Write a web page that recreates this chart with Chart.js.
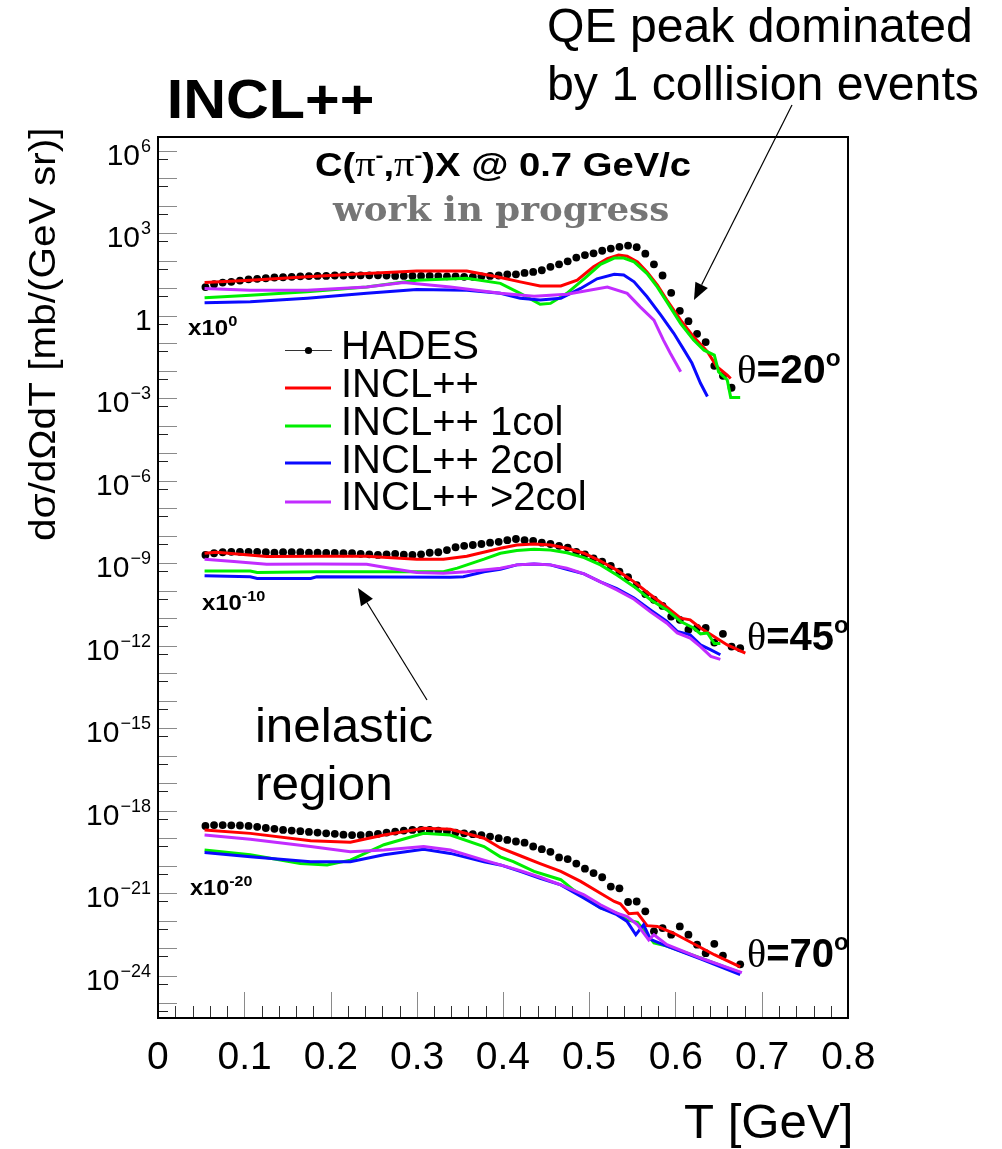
<!DOCTYPE html>
<html>
<head>
<meta charset="utf-8">
<title>C(pi-,pi-)X @ 0.7 GeV/c</title>
<script src="https://cdn.jsdelivr.net/npm/chart.js@4.4.0/dist/chart.umd.min.js"></script>
<style>
  html, body { margin: 0; padding: 0; background: #fff; }
  #wrap { width: 1002px; height: 1149px; }
</style>
</head>
<body>
<div id="wrap"><canvas id="chart" width="1002" height="1149"></canvas></div>
<script>
// HADES bin centres [GeV]
const hadesT = [0.055, 0.065, 0.075, 0.085, 0.095, 0.105, 0.115, 0.125, 0.135, 0.145,
  0.155, 0.165, 0.175, 0.185, 0.195, 0.205, 0.215, 0.225, 0.235, 0.245,
  0.255, 0.265, 0.275, 0.285, 0.295, 0.305, 0.315, 0.325, 0.335, 0.345,
  0.355, 0.365, 0.375, 0.385, 0.395, 0.405, 0.415, 0.425, 0.435, 0.445,
  0.455, 0.465, 0.475, 0.485, 0.495, 0.505, 0.515, 0.525, 0.535, 0.545,
  0.555, 0.565, 0.575, 0.585, 0.595, 0.605, 0.615, 0.625, 0.635, 0.645,
  0.655, 0.665, 0.675];

// theta = 20 deg (x10^0)
const hades20 = [1.1e1, 1.4e1, 1.6e1, 1.7e1, 1.9e1, 2.1e1, 2.2e1, 2.3e1, 2.45e1, 2.5e1,
  2.6e1, 2.7e1, 2.75e1, 2.8e1, 2.8e1, 2.9e1, 2.9e1, 2.95e1, 2.95e1, 2.95e1,
  2.95e1, 2.9e1, 2.8e1, 2.8e1, 2.8e1, 2.8e1, 2.8e1, 2.75e1, 2.7e1, 2.7e1,
  2.6e1, 2.6e1, 2.7e1, 2.8e1, 2.9e1, 3.2e1, 3.2e1, 3.6e1, 3.9e1, 4.5e1,
  6.0e1, 7.4e1, 9.5e1, 1.3e2, 1.6e2, 1.85e2, 2.3e2, 2.75e2, 3.2e2, 3.55e2,
  3.1e2, 1.8e2, 7.4e1, 2.9e1, 6.8, 1.5, 0.63, 0.22, 0.11, 1.5e-2,
  6.5e-3, 2.4e-3];
const red20T = [0.054, 0.107, 0.173, 0.242, 0.300, 0.358, 0.393, 0.420, 0.443, 0.467, 0.486, 0.505, 0.521,
  0.534, 0.544, 0.556, 0.567, 0.579, 0.590, 0.606, 0.621, 0.637, 0.648, 0.660, 0.664];
const red20 = [1.6e1, 1.95e1, 2.6e1, 3.4e1, 4.2e1, 4.2e1, 2.6e1, 1.7e1, 1.2e1, 1.2e1, 1.95e1, 6.0e1, 1.2e2,
  1.6e2, 1.45e2, 9.1e1, 3.9e1, 1.3e1, 3.7, 0.69, 0.17, 4.9e-2, 1.4e-2, 6.9e-3, 5.2e-3];
const green20T = [0.054, 0.107, 0.173, 0.242, 0.300, 0.358, 0.397, 0.420, 0.443, 0.455, 0.474, 0.494, 0.513, 0.529,
  0.540, 0.552, 0.567, 0.579, 0.590, 0.606, 0.621, 0.633, 0.645, 0.650, 0.660, 0.664, 0.675];
const green20 = [4.5, 5.6, 7.4, 1.1e1, 1.95e1, 2.3e1, 1.5e1, 6.5, 2.6, 2.8, 6.5, 2.2e1, 7.4e1, 1.25e2,
  1.25e2, 9.1e1, 3.4e1, 1.1e1, 3.2, 0.52, 0.13, 5.6e-2, 3.7e-2, 9.1e-3, 4.6e-3, 1.07e-3, 1.07e-3];
const blue20T = [0.054, 0.107, 0.173, 0.242, 0.300, 0.358, 0.397, 0.420, 0.443, 0.467, 0.490, 0.509, 0.529,
  0.540, 0.552, 0.567, 0.583, 0.598, 0.610, 0.619, 0.629, 0.637];
const blue20 = [2.95, 3.2, 4.3, 6.5, 8.9, 8.5, 6.5, 4.3, 3.7, 4.3, 9.8, 2.2e1, 3.2e1,
  3.0e1, 1.7e1, 4.9, 1.05, 0.23, 5.6e-2, 1.9e-2, 3.5e-3, 1.15e-3];
const mag20T = [0.054, 0.107, 0.173, 0.242, 0.285, 0.339, 0.397, 0.436, 0.474, 0.521, 0.544, 0.559, 0.575,
  0.586, 0.594, 0.606];
const mag20 = [9.8, 8.5, 8.5, 1.1e1, 1.6e1, 1.1e1, 6.5, 5.1, 6.0, 1.1e1, 6.5, 2.1, 0.69,
  0.13, 4.3e-2, 9.1e-3];

// theta = 45 deg (x10^-10)
const hades45 = [2.0e-9, 2.3e-9, 2.5e-9, 2.6e-9, 2.6e-9, 2.6e-9, 2.6e-9, 2.5e-9, 2.4e-9, 2.5e-9,
  2.5e-9, 2.5e-9, 2.4e-9, 2.4e-9, 2.35e-9, 2.35e-9, 2.3e-9, 2.3e-9, 2.2e-9, 2.1e-9,
  2.0e-9, 2.1e-9, 2.2e-9, 2.05e-9, 2.0e-9, 2.1e-9, 2.4e-9, 2.5e-9, 3.0e-9, 3.8e-9,
  4.3e-9, 4.6e-9, 5.0e-9, 5.6e-9, 6.0e-9, 6.9e-9, 7.6e-9, 6.9e-9, 6.5e-9, 5.6e-9,
  5.0e-9, 4.3e-9, 3.7e-9, 2.6e-9, 2.1e-9, 1.5e-9, 1.15e-9, 7.9e-10, 4.9e-10, 3.1e-10,
  1.6e-10, 7.6e-11, 4.7e-11, 2.8e-11, 1.15e-11, 8.7e-12, 3.8e-12, 4.4e-12, 4.4e-12, 1.3e-12,
  2.7e-12, 9.3e-13, 8.1e-13];
const red45T = [0.054, 0.068, 0.126, 0.184, 0.242, 0.300, 0.331, 0.358, 0.397, 0.416, 0.436, 0.455, 0.474,
  0.494, 0.513, 0.532, 0.552, 0.571, 0.590, 0.606, 0.617, 0.629, 0.645, 0.660, 0.681];
const red45 = [2.3e-9, 2.5e-9, 1.75e-9, 1.8e-9, 1.8e-9, 1.4e-9, 1.4e-9, 1.8e-9, 3.5e-9, 4.6e-9, 5.0e-9, 4.6e-9, 3.5e-9,
  2.3e-9, 1.2e-9, 5.6e-10, 2.1e-10, 7.1e-11, 2.5e-11, 1.0e-11, 8.7e-12, 4.4e-12, 2.1e-12, 1.07e-12, 5.4e-13];
const green45T = [0.054, 0.107, 0.115, 0.184, 0.331, 0.347, 0.378, 0.397, 0.416, 0.436, 0.455, 0.474,
  0.494, 0.513, 0.532, 0.552, 0.571, 0.590, 0.606, 0.621, 0.629, 0.637, 0.645, 0.652];
const green45 = [5.2e-10, 5.2e-10, 4.6e-10, 4.9e-10, 4.9e-10, 6.6e-10, 1.4e-9, 2.3e-9, 2.9e-9, 3.2e-9, 3.0e-9, 2.4e-9,
  1.6e-9, 8.7e-10, 3.7e-10, 1.4e-10, 4.7e-11, 2.0e-11, 7.6e-12, 4.4e-12, 2.7e-12, 2.9e-12, 1.2e-12, 1.2e-12];
const blue45T = [0.054, 0.107, 0.115, 0.177, 0.184, 0.339, 0.354, 0.378, 0.397, 0.416, 0.436, 0.455,
  0.474, 0.494, 0.513, 0.532, 0.552, 0.571, 0.590, 0.602, 0.617, 0.629, 0.641, 0.652];
const blue45 = [3.5e-10, 3.2e-10, 2.8e-10, 2.8e-10, 3.2e-10, 3.1e-10, 3.2e-10, 4.9e-10, 6.0e-10, 8.7e-10, 9.3e-10, 8.7e-10,
  6.0e-10, 4.1e-10, 2.1e-10, 1.2e-10, 5.4e-11, 2.0e-11, 7.6e-12, 3.3e-12, 2.5e-12, 1.07e-12, 7.1e-13, 4.7e-13];
const mag45T = [0.054, 0.088, 0.126, 0.184, 0.242, 0.269, 0.300, 0.331, 0.358, 0.397, 0.416, 0.436, 0.455,
  0.474, 0.494, 0.513, 0.532, 0.552, 0.571, 0.590, 0.602, 0.617, 0.629, 0.641, 0.652];
const mag45 = [1.4e-9, 1.15e-9, 9.1e-10, 9.3e-10, 9.1e-10, 6.6e-10, 4.6e-10, 4.3e-10, 4.9e-10, 6.6e-10, 8.7e-10, 9.3e-10, 8.7e-10,
  6.6e-10, 4.1e-10, 2.1e-10, 1.07e-10, 4.9e-11, 1.7e-11, 6.6e-12, 2.9e-12, 1.9e-12, 9.3e-13, 4.1e-13, 3.2e-13];

// theta = 70 deg (x10^-20)
const hades70 = [2.8e-19, 3.0e-19, 3.0e-19, 2.95e-19, 2.9e-19, 2.8e-19, 2.6e-19, 2.35e-19, 2.2e-19, 2.0e-19,
  1.9e-19, 1.8e-19, 1.7e-19, 1.6e-19, 1.5e-19, 1.45e-19, 1.35e-19, 1.3e-19, 1.3e-19, 1.35e-19,
  1.45e-19, 1.6e-19, 1.75e-19, 1.9e-19, 2.0e-19, 2.0e-19, 2.0e-19, 1.9e-19, 1.75e-19, 1.6e-19,
  1.5e-19, 1.4e-19, 1.3e-19, 1.15e-19, 1.0e-19, 8.7e-20, 7.6e-20, 6.9e-20, 5.0e-20, 4.0e-20,
  3.2e-20, 2.0e-20, 1.75e-20, 1.2e-20, 7.8e-21, 5.4e-21, 3.8e-21, 1.75e-21, 1.5e-21, 4.8e-22,
  5.0e-22, 2.2e-22, 4.1e-23, 5.4e-23, 3.1e-23, 6.2e-23, 3.1e-23, 1.35e-23, 6.6e-24, 1.45e-23,
  5.4e-24, null, 2.6e-24];
const red70T = [0.054, 0.107, 0.177, 0.223, 0.262, 0.308, 0.339, 0.378, 0.397, 0.420, 0.443, 0.467,
  0.490, 0.513, 0.529, 0.536, 0.546, 0.556, 0.567, 0.579, 0.598, 0.621, 0.645, 0.675];
const red70 = [2.0e-19, 1.5e-19, 8.1e-20, 7.1e-20, 1.3e-19, 2.3e-19, 2.1e-19, 1.0e-19, 4.4e-20, 2.3e-20, 1.2e-20, 6.2e-21,
  2.7e-21, 1.0e-21, 5.0e-22, 4.1e-22, 1.8e-22, 1.9e-22, 6.6e-23, 6.2e-23, 3.5e-23, 1.45e-23, 5.8e-24, 2.1e-24];
const green70T = [0.054, 0.107, 0.165, 0.196, 0.223, 0.262, 0.308, 0.339, 0.378, 0.397, 0.412,
  0.436, 0.467, 0.482, 0.513, 0.532, 0.544, 0.556, 0.575, 0.590, 0.629, 0.675];
const green70 = [3.7e-20, 2.5e-20, 1.2e-20, 1.07e-20, 1.6e-20, 5.8e-20, 1.5e-19, 1.3e-19, 5.0e-20, 2.1e-20, 1.4e-20,
  6.2e-21, 3.1e-21, 1.3e-21, 2.9e-22, 1.9e-22, 1.07e-22, 8.7e-23, 1.55e-23, 1.2e-23, 4.4e-24, 1.3e-24];
const blue70T = [0.054, 0.107, 0.177, 0.223, 0.262, 0.308, 0.339, 0.378, 0.397, 0.420, 0.443,
  0.467, 0.494, 0.513, 0.532, 0.544, 0.554, 0.563, 0.571, 0.590, 0.629, 0.675];
const blue70 = [3.0e-20, 2.1e-20, 1.4e-20, 1.4e-20, 2.5e-20, 4.0e-20, 2.8e-20, 1.4e-20, 1.07e-20, 6.2e-21, 3.5e-21,
  2.0e-21, 6.6e-22, 2.9e-22, 1.66e-22, 9.3e-23, 3.1e-23, 7.1e-23, 2.1e-23, 1.2e-23, 4.1e-24, 1.1e-24];
const mag70T = [0.054, 0.107, 0.177, 0.223, 0.262, 0.308, 0.339, 0.378, 0.397, 0.420, 0.443,
  0.467, 0.494, 0.513, 0.532, 0.544, 0.556, 0.569, 0.575, 0.590, 0.629, 0.677];
const mag70 = [1.3e-19, 9.1e-20, 5.0e-20, 3.2e-20, 3.7e-20, 5.0e-20, 3.7e-20, 1.6e-20, 1.07e-20, 6.6e-21, 3.8e-21,
  2.0e-21, 8.7e-22, 3.8e-22, 1.9e-22, 1.4e-22, 7.1e-23, 2.0e-23, 3.1e-23, 1.35e-23, 4.4e-24, 1.3e-24];

// axes
const xTickValues = [0, 0.1, 0.2, 0.3, 0.4, 0.5, 0.6, 0.7, 0.8];
const xTickLabels = ['0', '0.1', '0.2', '0.3', '0.4', '0.5', '0.6', '0.7', '0.8'];
const yLabelExps = [6, 3, 0, -3, -6, -9, -12, -15, -18, -21, -24];
const legendLabels = ['HADES', 'INCL++', 'INCL++ 1col', 'INCL++ 2col', 'INCL++ >2col'];

const RED = '#ff0000', GREEN = '#00ee00', BLUE = '#0a0aff', MAG = '#c22cff';
const SANS = '"Liberation Sans", Arial, Helvetica, sans-serif';
const SERIF = '"Liberation Serif", "Times New Roman", serif';

function pts(xs, ys) {
  return ys.map((y, i) => ({ x: xs[i], y: y }));
}

function hades(ys) {
  return {
    data: pts(hadesT, ys), showLine: false, order: 5,
    pointRadius: 3.9, pointHoverRadius: 0, pointBackgroundColor: '#000', pointBorderWidth: 0
  };
}

function model(xs, ys, color, order) {
  return {
    data: pts(xs, ys), showLine: true, order: order,
    borderColor: color, borderWidth: 3, pointRadius: 0, pointHoverRadius: 0, tension: 0, fill: false
  };
}

// text made of pieces; x is the ink start (or ink end when align right)
function drawRich(ctx, pieces, x, y, opt) {
  opt = opt || {};
  let adv = 0;
  const ms = [];
  pieces.forEach(p => {
    ctx.font = p.font;
    const m = ctx.measureText(p.t);
    ms.push({ m: m, off: adv });
    adv += m.width + (p.gap || 0);
  });
  const first = ms[0], last = ms[ms.length - 1];
  const inkL = first.off - first.m.actualBoundingBoxLeft;
  const inkR = last.off + last.m.actualBoundingBoxRight;
  const inkW = inkR - inkL;
  const s = opt.width ? opt.width / inkW : 1;
  let x0 = x;
  if (opt.align === 'right') x0 = x - inkW * s;
  else if (opt.align === 'center') x0 = x - inkW * s / 2;
  ctx.save();
  ctx.translate(x0, y);
  if (opt.rotate) ctx.rotate(opt.rotate);
  ctx.scale(s, 1);
  ctx.fillStyle = opt.color || '#000';
  ctx.textAlign = 'left';
  ctx.textBaseline = 'alphabetic';
  pieces.forEach((p, i) => {
    ctx.font = p.font;
    ctx.fillText(p.t, ms[i].off - inkL, p.dy || 0);
  });
  ctx.restore();
}

function arrow(ctx, x1, y1, x2, y2) {
  const a = Math.atan2(y2 - y1, x2 - x1);
  const L = 17, W = 7;
  const c = Math.cos(a), s = Math.sin(a);
  ctx.beginPath();
  ctx.moveTo(x1, y1);
  ctx.lineTo(x2 - L * c, y2 - L * s);
  ctx.stroke();
  ctx.beginPath();
  ctx.moveTo(x2, y2);
  ctx.lineTo(x2 - L * c + W * s, y2 - L * s - W * c);
  ctx.lineTo(x2 - L * c - W * s, y2 - L * s + W * c);
  ctx.closePath();
  ctx.fill();
}

const decor = {
  id: 'decor',
  beforeDraw(chart) {
    const ctx = chart.ctx;
    ctx.save();
    ctx.fillStyle = '#fff';
    ctx.fillRect(0, 0, chart.width, chart.height);
    ctx.restore();
  },
  afterDraw(chart) {
    const ctx = chart.ctx;
    const a = chart.chartArea;
    const xs = chart.scales.x, ys = chart.scales.y;
    ctx.save();

    // y ticks: decades long, 5x10^k short
    ctx.lineWidth = 1;
    for (let k = -26; k <= 7; k++) {
      const v = Math.pow(10, k);
      if (v >= ys.min && v <= ys.max) {
        const py = Math.round(ys.getPixelForValue(v)) + 0.5;
        ctx.strokeStyle = '#8a8a8a';
        ctx.beginPath(); ctx.moveTo(a.left, py); ctx.lineTo(a.left + 19, py); ctx.stroke();
      }
      const v5 = 5 * Math.pow(10, k);
      if (v5 >= ys.min && v5 <= ys.max) {
        const py = Math.round(ys.getPixelForValue(v5)) + 0.5;
        ctx.strokeStyle = '#222';
        ctx.beginPath(); ctx.moveTo(a.left, py); ctx.lineTo(a.left + 10, py); ctx.stroke();
      }
    }
    // x ticks
    for (let i = 0; i <= 40; i++) {
      const px = Math.round(xs.getPixelForValue(i * 0.02)) + 0.5;
      const major = i % 5 === 0;
      ctx.strokeStyle = major ? '#8a8a8a' : '#333';
      ctx.beginPath(); ctx.moveTo(px, a.bottom); ctx.lineTo(px, a.bottom - (major ? 26 : 12)); ctx.stroke();
    }
    // frame
    ctx.strokeStyle = '#000';
    ctx.lineWidth = 2;
    ctx.strokeRect(a.left, a.top, a.right - a.left, a.bottom - a.top);

    // x tick labels
    xTickValues.forEach((v, i) => {
      drawRich(ctx, [{ t: xTickLabels[i], font: '39px ' + SANS }], xs.getPixelForValue(v), 1069, { align: 'center' });
    });
    // y tick labels
    yLabelExps.forEach(e => {
      const py = ys.getPixelForValue(Math.pow(10, e));
      const pieces = e === 0 ? [{ t: '1', font: '30px ' + SANS }]
        : [{ t: '10', font: '30px ' + SANS, gap: 1 }, { t: String(e).replace('-', '\u2212'), font: '18px ' + SANS, dy: -13 }];
      drawRich(ctx, pieces, 151, py + 14, { align: 'right' });
    });

    // axis titles
    drawRich(ctx, [{ t: 'T [GeV]', font: '48px ' + SANS }], 850, 1138, { align: 'right', width: 165 });
    drawRich(ctx, [{ t: 'd\u03c3/d\u03a9dT [mb/(GeV sr)]', font: '37px ' + SANS }], 55, 540,
      { rotate: -Math.PI / 2, width: 410 });

    // headline texts
    drawRich(ctx, [{ t: 'INCL++', font: 'bold 55px ' + SANS }], 170, 118, { width: 202 });
    drawRich(ctx, [{ t: 'QE peak dominated', font: '48px ' + SANS }], 549, 42, { width: 421 });
    drawRich(ctx, [{ t: 'by 1 collision events', font: '48px ' + SANS }], 550, 100, { width: 428 });
    drawRich(ctx, [
      { t: 'C(', font: 'bold 34px ' + SANS },
      { t: '\u03c0', font: '36px ' + SERIF },
      { t: '-', font: 'bold 21px ' + SANS, dy: -14 },
      { t: ',', font: 'bold 34px ' + SANS },
      { t: '\u03c0', font: '36px ' + SERIF },
      { t: '-', font: 'bold 21px ' + SANS, dy: -14 },
      { t: ')X @ 0.7 GeV/c', font: 'bold 34px ' + SANS }
    ], 316, 176, { width: 374 });
    drawRich(ctx, [{ t: 'work in progress', font: 'bold 34px "DejaVu Serif", serif' }], 332, 221,
      { width: 336, color: '#767676' });

    // angle labels and scale factors
    [['20', 738, 383, 102], ['45', 748, 650, 100], ['70', 748, 967, 100]].forEach(r => {
      drawRich(ctx, [
        { t: '\u03b8', font: '40px ' + SERIF },
        { t: '=' + r[0], font: 'bold 40px ' + SANS },
        { t: 'o', font: 'bold 24px ' + SANS, dy: -17 }
      ], r[1], r[2], { width: r[3] });
    });
    [['0', 188, 335, 49], ['-10', 202, 610, 63], ['-20', 190, 895, 62]].forEach(r => {
      drawRich(ctx, [
        { t: 'x10', font: 'bold 22px ' + SANS },
        { t: r[0], font: 'bold 15px ' + SANS, dy: -9 }
      ], r[1], r[2], { width: r[3] });
    });

    drawRich(ctx, [{ t: 'inelastic', font: '48px ' + SANS }], 258, 742, { width: 174 });
    drawRich(ctx, [{ t: 'region', font: '48px ' + SANS }], 258, 800, { width: 132 });

    // arrows
    ctx.strokeStyle = '#000';
    ctx.fillStyle = '#000';
    ctx.lineWidth = 1.2;
    arrow(ctx, 792, 105, 694, 300);
    arrow(ctx, 427, 700, 358, 588);

    // legend
    const colors = [null, RED, GREEN, BLUE, MAG];
    const lineY = [350, 388, 426, 463, 502];
    const baseY = [359, 397, 435, 473, 510];
    legendLabels.forEach((lab, i) => {
      if (i === 0) {
        ctx.strokeStyle = '#333';
        ctx.lineWidth = 1;
        ctx.beginPath(); ctx.moveTo(285, lineY[i] + 0.5); ctx.lineTo(332, lineY[i] + 0.5); ctx.stroke();
        ctx.fillStyle = '#000';
        ctx.beginPath(); ctx.arc(308.5, lineY[i] + 0.5, 3.6, 0, Math.PI * 2); ctx.fill();
      } else {
        ctx.strokeStyle = colors[i];
        ctx.lineWidth = 3;
        ctx.beginPath(); ctx.moveTo(285, lineY[i]); ctx.lineTo(331, lineY[i]); ctx.stroke();
      }
      drawRich(ctx, [{ t: lab, font: '40px ' + SANS }], 344, baseY[i]);
    });

    ctx.restore();
  }
};

new Chart(document.getElementById('chart'), {
  type: 'scatter',
  data: {
    datasets: [
      hades(hades20), hades(hades45), hades(hades70),
      model(red20T, red20, RED, 4), model(green20T, green20, GREEN, 3),
      model(blue20T, blue20, BLUE, 2), model(mag20T, mag20, MAG, 1),
      model(red45T, red45, RED, 4), model(green45T, green45, GREEN, 3),
      model(blue45T, blue45, BLUE, 2), model(mag45T, mag45, MAG, 1),
      model(red70T, red70, RED, 4), model(green70T, green70, GREEN, 3),
      model(blue70T, blue70, BLUE, 2), model(mag70T, mag70, MAG, 1)
    ]
  },
  options: {
    responsive: false,
    animation: false,
    devicePixelRatio: 1,
    layout: { padding: { left: 158, right: 154, top: 137, bottom: 131 } },
    plugins: { legend: { display: false }, tooltip: { enabled: false } },
    events: [],
    scales: {
      x: { type: 'linear', min: 0, max: 0.8, display: false },
      y: { type: 'logarithmic', min: 2.9e-26, max: 3.15e6, display: false }
    }
  },
  plugins: [decor]
});
</script>
</body>
</html>
